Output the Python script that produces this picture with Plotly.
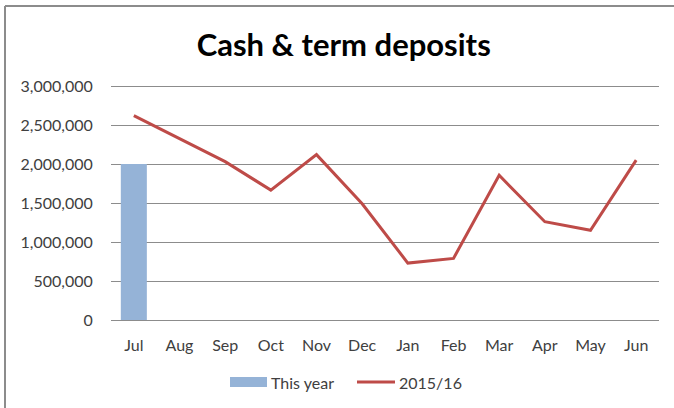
import plotly.graph_objects as go

months = ["Jul", "Aug", "Sep", "Oct", "Nov", "Dec", "Jan", "Feb", "Mar", "Apr", "May", "Jun"]
this_year = [2000000, None, None, None, None, None, None, None, None, None, None, None]
prior_year = [2620000, 2330000, 2030000, 1665000, 2120000, 1490000, 730000, 790000, 1855000, 1260000, 1150000, 2050000]
y_ticks = [0, 500000, 1000000, 1500000, 2000000, 2500000, 3000000]
legend_names = ["This year", "2015/16"]

FONT = "Lato, 'Open Sans', sans-serif"
TXT = "#404040"
BAR_C = "#95B3D7"
LINE_C = "#BE4B48"

fig = go.Figure()
fig.add_trace(go.Bar(x=months, y=this_year, name=legend_names[0], marker_color=BAR_C,
                     width=0.57, marker_line_width=0, showlegend=False))
fig.add_trace(go.Scatter(x=months, y=prior_year, name=legend_names[1], mode="lines",
                         line=dict(color=LINE_C, width=3), showlegend=False))

W, H = 674, 408
PAD = 3
L, R, T, B = 111, 15, 86 - PAD, 88 - PAD
pw, ph = W - L - R, H - T - B
ypad = 3000000 * PAD / (ph - 2 * PAD)


def px_x(x):
    return (x - L) / pw


def px_y(y):
    return (H - B - y) / ph


fig.update_layout(
    width=W, height=H,
    margin=dict(l=L, r=R, t=T, b=B, autoexpand=False),
    paper_bgcolor="white", plot_bgcolor="white",
    font=dict(family=FONT, size=16, color=TXT),
    title=dict(text="<b>Cash &amp; term deposits</b>", x=0.51, xanchor="center",
               y=1 - 45 / H, yanchor="middle",
               font=dict(family=FONT, size=31, color="#000000")),
    showlegend=False,
    xaxis=dict(type="category", showgrid=False, showline=False, ticks="outside",
               ticklen=8, tickcolor="rgba(0,0,0,0)",
               tickfont=dict(size=16, color=TXT), zeroline=False),
    yaxis=dict(range=[-ypad, 3000000 + ypad], tickvals=y_ticks, tickformat=",",
               showgrid=True, gridcolor="#8C8C8C", gridwidth=1, zeroline=False,
               showline=False, ticks="outside", ticklen=14, tickcolor="rgba(0,0,0,0)",
               tickfont=dict(size=16, color=TXT)),
    bargap=0.43,
)

# chart border (top and left edges only, as in the reference crop)
fig.add_shape(type="line", xref="paper", yref="paper",
              x0=px_x(5), x1=px_x(680), y0=px_y(6), y1=px_y(6),
              line=dict(color="#8C8C8C", width=2), layer="below")
fig.add_shape(type="line", xref="paper", yref="paper",
              x0=px_x(5), x1=px_x(5), y0=px_y(6), y1=px_y(420),
              line=dict(color="#8C8C8C", width=2), layer="below")

# legend drawn manually (Excel style)
ly = 382
fig.add_shape(type="rect", xref="paper", yref="paper",
              x0=px_x(230), x1=px_x(267), y0=px_y(387), y1=px_y(377),
              line=dict(width=0), fillcolor=BAR_C)
fig.add_annotation(text=legend_names[0], xref="paper", yref="paper", x=px_x(269), y=px_y(ly),
                   xanchor="left", yanchor="middle", showarrow=False,
                   font=dict(family=FONT, size=16, color=TXT))
fig.add_shape(type="line", xref="paper", yref="paper",
              x0=px_x(357), x1=px_x(395), y0=px_y(ly), y1=px_y(ly),
              line=dict(color=LINE_C, width=3))
fig.add_annotation(text=legend_names[1], xref="paper", yref="paper", x=px_x(397), y=px_y(ly),
                   xanchor="left", yanchor="middle", showarrow=False,
                   font=dict(family=FONT, size=16, color=TXT))

fig.write_html("out.html",
               config={"displayModeBar": False},
               post_script="document.body.style.margin='0';document.body.style.padding='0';"
                           "document.documentElement.style.overflow='hidden';")
